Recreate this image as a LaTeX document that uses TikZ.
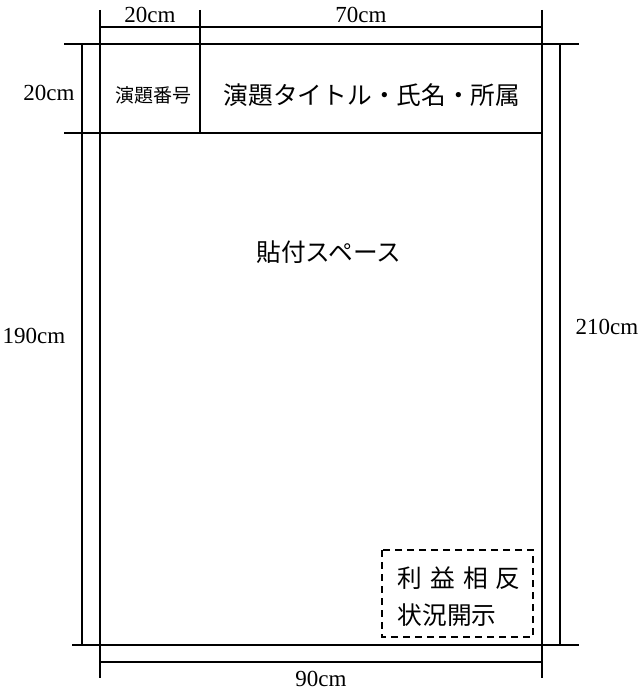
\documentclass[tikz,border=0pt]{standalone}
\usepackage{fontspec}
\setmainfont{Liberation Serif}
\newfontfamily\jp{Noto Sans CJK JP}
\begin{document}
\begin{tikzpicture}[x=1pt,y=-1pt,line width=1.6pt,
  dim/.style={font=\fontsize{23}{23}\selectfont,inner sep=0pt},
  jpl/.style={font=\jp\fontsize{24.7}{24.7}\selectfont,inner sep=0pt},
  jps/.style={font=\jp\fontsize{19}{19}\selectfont,inner sep=0pt},
  coi/.style={dash pattern=on 7pt off 5pt,line width=1.6pt}]
\useasboundingbox (0,0) rectangle (640,692);
% dimension / frame lines
\draw (100,10) -- (100,678);
\draw (542,10) -- (542,678);
\draw (200,10) -- (200,133);
\draw (100,27) -- (542,27);
\draw (64,44) -- (579,44);
\draw (64,133) -- (542,133);
\draw (72,645) -- (579,645);
\draw (100,662) -- (542,662);
\draw (82,44) -- (82,645);
\draw (560,44) -- (560,645);
% COI box
\draw[coi] (382,550) rectangle (533,637);
% labels
\node[dim] (d20t) at (150,15) {20cm};
\node[dim] (d70) at (361,15) {70cm};
\node[dim] (d20l) at (49,93) {20cm};
\node[dim] (d190) at (34,336) {190cm};
\node[dim] (d210) at (607,327) {210cm};
\node[dim] (d90) at (321,679) {90cm};
\node[jps] (num) at (153,95) {演題番号};
\node[jpl] (title) at (372,95) {演題タイトル・氏名・所属};
\node[jpl] (space) at (329,252) {貼付スペース};
\node[jpl,anchor=west] (coi1) at (397,578) {利\hspace{8pt}益\hspace{8pt}相\hspace{8pt}反};
\node[jpl,anchor=west] (coi2) at (397,615) {状況開示};
\end{tikzpicture}
\end{document}
